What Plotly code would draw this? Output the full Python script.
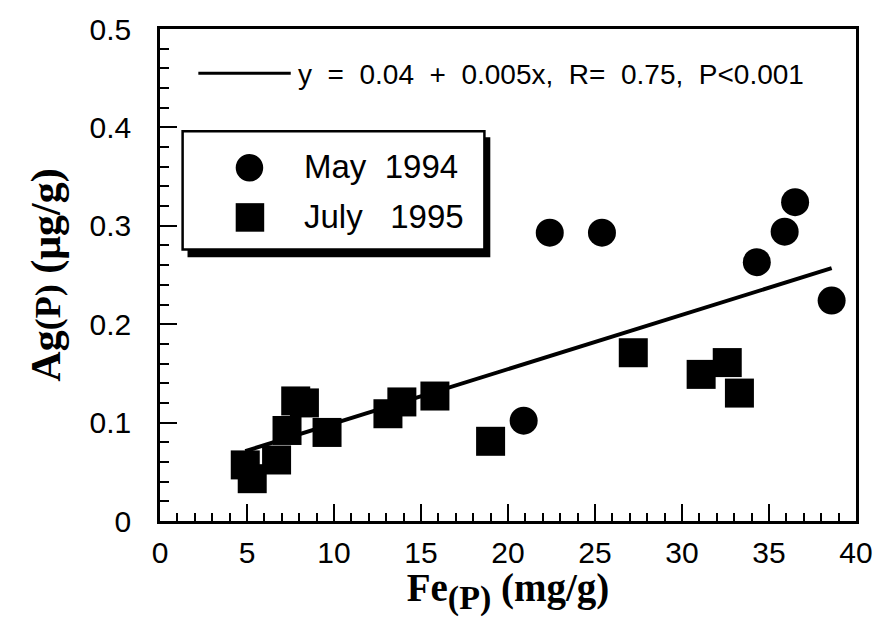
import plotly.graph_objects as go

# ---- data ----
may_label = "May  1994"
july_label = "July   1995"
fit_label = "y  =  0.04  +  0.005x,  R=  0.75,  P<0.001"

may_x = [20.9, 22.4, 25.4, 34.3, 35.9, 36.5, 38.6]
may_y = [0.102, 0.293, 0.293, 0.263, 0.294, 0.324, 0.224]

july_x = [4.9, 5.3, 6.7, 7.3, 7.8, 8.3, 9.6, 13.1, 13.9, 15.8, 19.0, 27.2, 31.1, 32.6, 33.3]
july_y = [0.057, 0.043, 0.062, 0.092, 0.122, 0.120, 0.090, 0.109, 0.121, 0.127, 0.081,
          0.171, 0.149, 0.161, 0.130]

fit_x = [4.9, 38.6]
fit_y = [0.071, 0.257]

x_ticks = [0, 5, 10, 15, 20, 25, 30, 35, 40]
y_ticks = [0, 0.1, 0.2, 0.3, 0.4, 0.5]
y_ticktext = ["0", "0.1", "0.2", "0.3", "0.4", "0.5"]

# ---- layout geometry (pixels) ----
W, H = 885, 617
L, R, T, B = 160, 17, 26, 91
PW, PH = W - L - R, H - T - B

def px(x):
    return (x - L) / PW

def py(y):
    return (H - B - y) / PH

SANS = "Liberation Sans, Arial, Helvetica, sans-serif"
SERIF = "Liberation Serif, Times New Roman, serif"

fig = go.Figure()
fig.add_trace(go.Scatter(x=fit_x, y=fit_y, mode="lines", name="fit",
                         line=dict(color="black", width=4), showlegend=False,
                         hoverinfo="skip"))
fig.add_trace(go.Scatter(x=july_x, y=july_y, mode="markers", name=july_label,
                         marker=dict(symbol="square", size=29, color="black"),
                         showlegend=False))
fig.add_trace(go.Scatter(x=may_x, y=may_y, mode="markers", name=may_label,
                         marker=dict(symbol="circle", size=28, color="black"),
                         showlegend=False))

axis_common = dict(
    showline=True, linecolor="black", linewidth=2.5, mirror=True,
    ticks="inside", ticklen=17, tickwidth=2, tickcolor="black",
    showgrid=False, zeroline=False,
    ticklabeloverflow="allow",
    tickfont=dict(family=SANS, size=30, color="black"),
)

fig.update_xaxes(range=[0, 40], tickvals=x_ticks, ticktext=[str(v) for v in x_ticks],
                 minor=dict(dtick=1, ticks="inside", ticklen=8, tickwidth=1.5,
                            tickcolor="black", showgrid=False),
                 ticklabelstandoff=3,
                 title=dict(text="<b>Fe<sub><span style='font-size:34px'>(P)</span></sub> (mg/g)</b>",
                            font=dict(family=SERIF, size=39, color="black"),
                            standoff=9),
                 **axis_common)
fig.update_yaxes(range=[0, 0.5], tickvals=y_ticks, ticktext=y_ticktext,
                 minor=dict(dtick=0.02, ticks="inside", ticklen=9, tickwidth=1.5,
                            tickcolor="black", showgrid=False),
                 ticklabelstandoff=20,
                 title=dict(text="<b>Ag<span style='font-size:36px'>(P)</span> (μg/g)</b>",
                            font=dict(family=SERIF, size=42, color="black"),
                            standoff=16),
                 **axis_common)

shapes = [
    # legend shadow and box
    dict(type="rect", xref="paper", yref="paper", x0=px(188), x1=px(496),
         y0=py(258), y1=py(136), fillcolor="black", line=dict(width=0), layer="above"),
    dict(type="rect", xref="paper", yref="paper", x0=px(183), x1=px(490),
         y0=py(250), y1=py(130), fillcolor="white", line=dict(color="black", width=2.5),
         layer="above"),
    # legend symbols
    dict(type="circle", xref="paper", yref="paper", x0=px(237), x1=px(265),
         y0=py(181), y1=py(153), fillcolor="black", line=dict(width=0), layer="above"),
    dict(type="rect", xref="paper", yref="paper", x0=px(237), x1=px(266),
         y0=py(232), y1=py(203), fillcolor="black", line=dict(width=0), layer="above"),
    # fit legend line
    dict(type="line", xref="paper", yref="paper", x0=px(199), x1=px(293),
         y0=py(71), y1=py(71), line=dict(color="black", width=3), layer="above"),
]

annotations = [
    dict(xref="paper", yref="paper", x=px(304), y=py(166), text=may_label,
         showarrow=False, xanchor="left", yanchor="middle",
         font=dict(family=SANS, size=33, color="black")),
    dict(xref="paper", yref="paper", x=px(304), y=py(217), text=july_label,
         showarrow=False, xanchor="left", yanchor="middle",
         font=dict(family=SANS, size=33, color="black")),
    dict(xref="paper", yref="paper", x=px(298), y=py(72), text=fit_label,
         showarrow=False, xanchor="left", yanchor="middle",
         font=dict(family=SANS, size=28, color="black")),
]

fig.update_layout(
    width=W, height=H,
    margin=dict(l=L, r=R, t=T, b=B, pad=0),
    paper_bgcolor="white", plot_bgcolor="white",
    showlegend=False,
    shapes=shapes, annotations=annotations,
)

fig.write_html("out.html")
